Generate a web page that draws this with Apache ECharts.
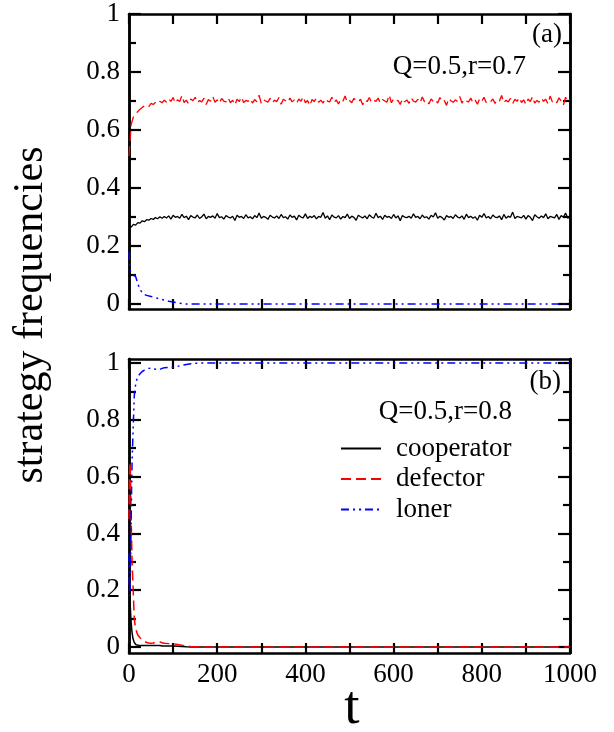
<!DOCTYPE html>
<html><head><meta charset="utf-8">
<script src="https://cdn.jsdelivr.net/npm/echarts@6/dist/echarts.min.js"></script>
<style>html,body{margin:0;padding:0;background:#fff}#c{width:614px;height:732px}</style>
</head><body><div id="c"></div>
<script>
// ---------- data ----------
const names = ['cooperator', 'defector', 'loner'];
const xTickLabels = ['0', '200', '400', '600', '800', '1000'];
const yTickLabels = ['0', '0.2', '0.4', '0.6', '0.8', '1'];
const yMinorTicks = [0.1, 0.3, 0.5, 0.7, 0.9];

// panel (a): Q=0.5, r=0.7
const tA = [
0,5,10,15,20,25,30,35,40,45,50,55,60,65,70,75,80,85,90,95,
100,105,110,115,120,125,130,135,140,145,150,155,160,165,170,175,180,185,190,195,
200,205,210,215,220,225,230,235,240,245,250,255,260,265,270,275,280,285,290,295,
300,305,310,315,320,325,330,335,340,345,350,355,360,365,370,375,380,385,390,395,
400,405,410,415,420,425,430,435,440,445,450,455,460,465,470,475,480,485,490,495,
500,505,510,515,520,525,530,535,540,545,550,555,560,565,570,575,580,585,590,595,
600,605,610,615,620,625,630,635,640,645,650,655,660,665,670,675,680,685,690,695,
700,705,710,715,720,725,730,735,740,745,750,755,760,765,770,775,780,785,790,795,
800,805,810,815,820,825,830,835,840,845,850,855,860,865,870,875,880,885,890,895,
900,905,910,915,920,925,930,935,940,945,950,955,960,965,970,975,980,985,990,995,
1000];
const coopA = [
0.27,0.265,0.275,0.272,0.281,0.279,0.287,0.284,0.291,0.289,0.295,0.292,0.298,0.294,0.301,0.296,0.302,
0.297,0.304,0.293,0.306,0.299,0.302,0.296,0.309,0.298,0.303,
0.291,0.305,0.300,0.297,0.307,0.295,0.301,0.310,0.294,0.302,
0.299,0.304,0.296,0.312,0.298,0.301,0.293,0.305,0.300,0.297,
0.303,0.288,0.306,0.299,0.302,0.295,0.308,0.297,0.301,0.294,
0.305,0.298,0.314,0.296,0.302,0.299,0.292,0.306,0.300,0.297,
0.304,0.295,0.309,0.298,0.301,0.293,0.307,0.299,0.303,0.290,
0.306,0.300,0.297,0.311,0.295,0.303,0.298,0.305,0.294,0.302,
0.299,0.316,0.296,0.304,0.291,0.307,0.300,0.297,0.305,0.293,
0.302,0.298,0.310,0.295,0.303,0.299,0.289,0.306,0.301,0.297,
0.304,0.294,0.308,0.300,0.296,0.313,0.298,0.303,0.292,0.306,
0.299,0.302,0.295,0.309,0.297,0.304,0.287,0.305,0.300,0.298,
0.303,0.296,0.311,0.299,0.302,0.294,0.307,0.298,0.301,0.293,
0.306,0.300,0.315,0.296,0.303,0.298,0.290,0.305,0.299,0.302,
0.295,0.308,0.300,0.297,0.304,0.292,0.310,0.298,0.303,0.296,
0.301,0.289,0.306,0.299,0.312,0.297,0.302,0.294,0.307,0.300,
0.298,0.304,0.291,0.309,0.296,0.303,0.299,0.317,0.295,0.302,
0.300,0.297,0.306,0.293,0.305,0.299,0.288,0.308,0.301,0.296,
0.304,0.298,0.311,0.294,0.302,0.300,0.297,0.309,0.292,0.305,
0.299,0.314,0.296,0.303];
const defA = [
0.51,0.62,0.645,0.655,0.664,0.672,0.678,0.683,0.686,0.681,0.692,0.688,0.695,0.69,0.699,0.694,0.703,
0.696,0.708,0.699,0.712,0.693,0.704,0.698,0.719,0.695,0.703,
0.690,0.707,0.701,0.713,0.694,0.702,0.697,0.710,0.688,0.705,
0.699,0.716,0.696,0.704,0.692,0.709,0.700,0.697,0.711,0.694,
0.703,0.686,0.706,0.698,0.714,0.695,0.702,0.699,0.708,0.693,
0.705,0.697,0.720,0.691,0.704,0.700,0.696,0.709,0.694,0.703,
0.698,0.712,0.689,0.706,0.701,0.695,0.710,0.697,0.704,0.692,
0.707,0.699,0.715,0.694,0.702,0.684,0.705,0.698,0.711,0.696,
0.703,0.693,0.708,0.700,0.697,0.713,0.695,0.704,0.690,0.706,
0.699,0.717,0.696,0.702,0.694,0.709,0.701,0.697,0.706,0.687,
0.704,0.698,0.712,0.695,0.703,0.699,0.710,0.693,0.705,0.700,
0.696,0.721,0.694,0.707,0.699,0.702,0.688,0.708,0.697,0.704,
0.692,0.711,0.700,0.696,0.706,0.694,0.714,0.698,0.703,0.690,
0.707,0.699,0.705,0.693,0.712,0.697,0.702,0.685,0.709,0.701,
0.696,0.704,0.698,0.716,0.693,0.706,0.700,0.697,0.710,0.694,
0.703,0.689,0.708,0.699,0.713,0.695,0.702,0.698,0.707,0.692,
0.705,0.700,0.719,0.694,0.703,0.697,0.709,0.691,0.706,0.699,
0.712,0.695,0.704,0.688,0.707,0.698,0.715,0.693,0.702,0.696,
0.710,0.699,0.706,0.690,0.717,0.697,0.703,0.694,0.711,0.700,
0.686,0.713,0.698,0.705];
const tLonA = [0,2,5,10,15,20,25,30,35,40,50,60,70,80,90,100,110,120,130,1000];
const lonA  = [0.18,0.12,0.105,0.1,0.095,0.07,0.05,0.04,0.033,0.03,0.026,0.022,0.018,0.014,0.01,0.007,0.004,0.002,0,0];

// panel (b): Q=0.5, r=0.8
const tB = [0,1,2,3,4,5,6,7,8,9,10,12,14,16,18,20,25,30,35,40,45,50,55,60,65,70,75,80,90,100,110,120,130,140,150,175,200,300,400,500,600,700,800,900,1000];
const coopB = [0.22,0.2,0.17,0.14,0.11,0.085,0.065,0.05,0.04,0.03,0.024,0.016,0.011,0.008,0.007,0.006,0.005,0.005,0.005,0.005,0.005,0.005,0.005,0.005,0.005,0.005,0.004,0.004,0.004,0.004,0.003,0.002,0.001,0.0005,0,0,0,0,0,0,0,0,0,0,0];
const defB  = [0.45,0.6,0.65,0.62,0.55,0.45,0.37,0.3,0.26,0.22,0.18,0.1,0.075,0.06,0.05,0.042,0.033,0.025,0.02,0.016,0.014,0.013,0.014,0.017,0.019,0.018,0.015,0.013,0.012,0.011,0.009,0.006,0.004,0.002,0.001,0,0,0,0,0,0,0,0,0,0];
const lonB  = [0.33,0.2,0.18,0.24,0.34,0.465,0.565,0.65,0.7,0.75,0.796,0.884,0.914,0.932,0.943,0.952,0.962,0.97,0.975,0.979,0.981,0.982,0.981,0.978,0.976,0.977,0.981,0.983,0.984,0.985,0.988,0.992,0.995,0.9975,0.999,1,1,1,1,1,1,1,1,1,1];

// ---------- chart ----------
const FONT = '"Liberation Serif", "Times New Roman", serif';
const chart = echarts.init(document.getElementById('c'), null, { renderer: 'canvas' });
const yRanges = [[-0.017, 1], [-0.021, 1.014]];
const yMajor = yTickLabels.map(parseFloat);

function yFmt(v) {
  for (let i = 0; i < yTickLabels.length; i++) {
    if (Math.abs(v - yMajor[i]) < 1e-6) return yTickLabels[i];
  }
  return '';
}
function xFmt(v) {
  for (let i = 0; i < xTickLabels.length; i++) {
    if (Math.abs(v - parseFloat(xTickLabels[i])) < 1e-6) return xTickLabels[i];
  }
  return '';
}
const lineBlack = { show: true, onZero: false, lineStyle: { color: '#000', width: 2.5 } };
function xAx(g, pos, labels) {
  return {
    type: 'value', gridIndex: g, position: pos, min: 0, max: 1000, interval: 100,
    axisLine: lineBlack,
    axisTick: { show: true, inside: true, length: 10, lineStyle: { color: '#000', width: 2.2 } },
    axisLabel: { show: labels, formatter: xFmt, color: '#000', fontFamily: FONT, fontSize: 27, margin: 8 },
    splitLine: { show: false }
  };
}
function yAx(g, pos, values, len, labels) {
  return {
    type: 'value', gridIndex: g, position: pos, min: yRanges[g][0], max: yRanges[g][1],
    axisLine: lineBlack,
    axisTick: { show: true, inside: true, length: len, customValues: values, lineStyle: { color: '#000', width: 2.2 } },
    axisLabel: { show: labels, customValues: values, formatter: yFmt, color: '#000', fontFamily: FONT, fontSize: 27, margin: 9 },
    splitLine: { show: false }
  };
}
function ser(name, g, t, v, color, type, width) {
  return {
    name: name, type: 'line', xAxisIndex: g * 2, yAxisIndex: g * 4,
    data: t.map((x, i) => [x, v[i]]),
    showSymbol: false, symbol: 'none', animation: false,
    lineStyle: { color: color, width: width, type: type },
    itemStyle: { color: color }
  };
}
const DASH = [10, 5];
const DASHDOT = [8, 4, 2, 4, 2, 4];

const option = {
  backgroundColor: '#fff',
  animation: false,
  grid: [
    { left: 129, top: 14, width: 441, height: 295 },
    { left: 129, top: 359, width: 441, height: 294 }
  ],
  xAxis: [xAx(0, 'bottom', false), xAx(0, 'top', false), xAx(1, 'bottom', true), xAx(1, 'top', false)],
  yAxis: [
    yAx(0, 'left', yMajor, 12, true), yAx(0, 'left', yMinorTicks, 7, false), yAx(0, 'right', yMajor, 12, false), yAx(0, 'right', yMinorTicks, 7, false),
    yAx(1, 'left', yMajor, 12, true), yAx(1, 'left', yMinorTicks, 7, false), yAx(1, 'right', yMajor, 12, false), yAx(1, 'right', yMinorTicks, 7, false)
  ],
  legend: {
    data: names, orient: 'vertical', left: 335, top: 430,
    itemWidth: 40, itemHeight: 1, itemGap: 3.5, selectedMode: false,
    textStyle: { fontFamily: FONT, fontSize: 27, color: '#000', padding: [0, 0, 0, 10] }
  },
  series: [
    ser(names[0], 0, tA, coopA, '#000000', 'solid', 1.3),
    ser(names[1], 0, tA, defA, '#ff0000', DASH, 1.3),
    ser(names[2], 0, tLonA, lonA, '#0000ff', DASHDOT, 1.5),
    ser(names[0], 1, tB, coopB, '#000000', 'solid', 1.5),
    ser(names[1], 1, tB, defB, '#ff0000', DASH, 1.5),
    ser(names[2], 1, tB, lonB, '#0000ff', DASHDOT, 1.5)
  ],
  graphic: [
    { type: 'text', x: 562, y: 35, style: { text: '(a)', font: '27px ' + FONT, fill: '#000', textAlign: 'right', textVerticalAlign: 'middle' } },
    { type: 'text', x: 526, y: 67, style: { text: 'Q=0.5,r=0.7', font: '27px ' + FONT, fill: '#000', textAlign: 'right', textVerticalAlign: 'middle' } },
    { type: 'text', x: 561, y: 382, style: { text: '(b)', font: '27px ' + FONT, fill: '#000', textAlign: 'right', textVerticalAlign: 'middle' } },
    { type: 'text', x: 512, y: 412, style: { text: 'Q=0.5,r=0.8', font: '27px ' + FONT, fill: '#000', textAlign: 'right', textVerticalAlign: 'middle' } },
    { type: 'text', x: 31, y: 315, rotation: Math.PI / 2, style: { text: 'strategy frequencies', font: '42px ' + FONT, fill: '#000', textAlign: 'center', textVerticalAlign: 'middle' } },
    { type: 'text', x: 352, y: 709, style: { text: 't', font: '55px ' + FONT, fill: '#000', textAlign: 'center', textVerticalAlign: 'middle' } }
  ]
};
chart.setOption(option);
</script>
</body></html>
